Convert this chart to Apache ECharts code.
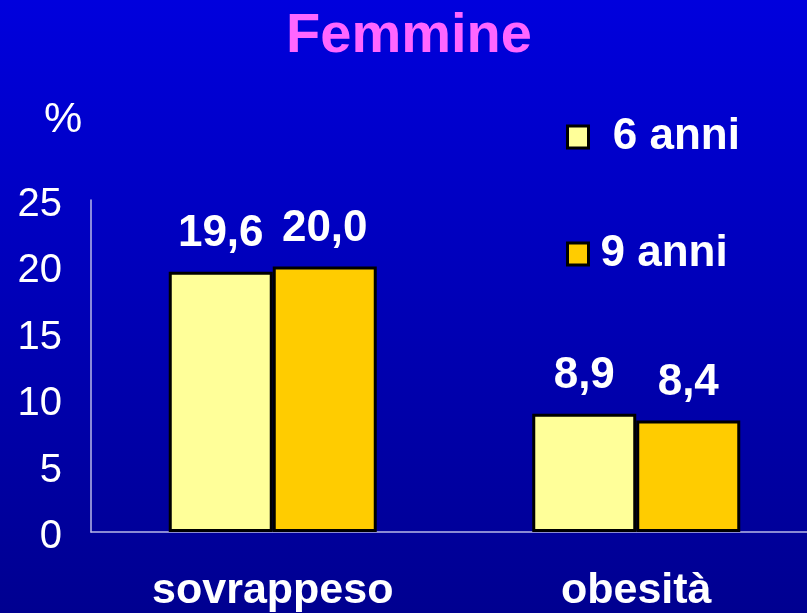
<!DOCTYPE html>
<html>
<head>
<meta charset="utf-8">
<script src="https://cdn.jsdelivr.net/npm/echarts@6/dist/echarts.min.js"></script>
<style>
  html, body { margin: 0; padding: 0; overflow: hidden; }
  #wrap { width: 807px; height: 613px; overflow: hidden; }
  /* il grafico sborda a destra: l'asse x continua oltre il bordo */
  #chart { width: 818px; height: 613px; }
</style>
</head>
<body>
<div id="wrap"><div id="chart"></div></div>
<script>
// dati
const categories = ['sovrappeso', 'obesità'];
const seriesNames = ['6 anni', '9 anni'];
const anni6 = [19.6, 8.9];
const anni9 = [20.0, 8.4];
const yTicks = [0, 25, 5]; // min, max, interval

const FONT = 'Liberation Sans';
const colors = ['#FFFF99', '#FFCC00'];

const chart = echarts.init(document.getElementById('chart'));

function barSeries(name, data, color) {
  return {
    name: name,
    type: 'bar',
    data: data,
    barWidth: 104,
    barGap: '0%',
    itemStyle: { color: color, borderColor: '#000', borderWidth: 3 },
    label: {
      show: true,
      position: 'top',
      distance: 16,
      color: '#fff',
      fontFamily: FONT,
      fontWeight: 'bold',
      fontSize: 44,
      formatter: p => p.value.toFixed(1).replace('.', ',')
    }
  };
}

chart.setOption({
  backgroundColor: {
    type: 'linear', x: 0, y: 0, x2: 0, y2: 1,
    colorStops: [
      { offset: 0, color: '#0000DD' },
      { offset: 1, color: '#000090' }
    ]
  },
  title: {
    text: 'Femmine',
    left: 'center',
    top: 4,
    textStyle: { color: '#FF66FF', fontFamily: FONT, fontWeight: 'bold', fontSize: 56 }
  },
  legend: {
    orient: 'vertical',
    left: 566,
    top: 115,
    padding: 0,
    itemWidth: 21,
    itemHeight: 22,
    itemGap: 73,
    icon: 'rect',
    itemStyle: { borderColor: '#000', borderWidth: 3 },
    formatter: name => name === '6 anni' ? ' ' + name : name,
    textStyle: {
      color: '#fff', fontFamily: FONT, fontWeight: 'bold', fontSize: 44,
      lineHeight: 44, padding: [0, 0, 0, 7]
    },
    data: seriesNames
  },
  grid: { left: 91, right: 0, top: 200, bottom: 81, containLabel: false },
  xAxis: {
    type: 'category',
    data: categories,
    axisLine: { lineStyle: { color: '#B8B8E8', width: 1.5 } },
    axisTick: { show: false },
    axisLabel: {
      margin: 38,
      color: '#fff',
      fontFamily: FONT,
      fontWeight: 'bold',
      fontSize: 43
    }
  },
  yAxis: {
    type: 'value',
    min: yTicks[0],
    max: yTicks[1],
    interval: yTicks[2],
    name: '%',
    nameLocation: 'end',
    nameGap: 58,
    nameTextStyle: { color: '#fff', fontFamily: FONT, fontSize: 43, padding: [0, 56, 0, 0] },
    axisLine: { show: true, lineStyle: { color: '#B8B8E8', width: 1.5 } },
    axisTick: { show: false },
    splitLine: { show: false },
    axisLabel: {
      margin: 29,
      formatter: v => '{n|' + v + '}',
      rich: {
        n: { color: '#fff', fontFamily: FONT, fontSize: 40, padding: [10, 0, 0, 0] }
      }
    }
  },
  series: [
    barSeries(seriesNames[0], anni6, colors[0]),
    barSeries(seriesNames[1], anni9, colors[1])
  ]
});
</script>
</body>
</html>
